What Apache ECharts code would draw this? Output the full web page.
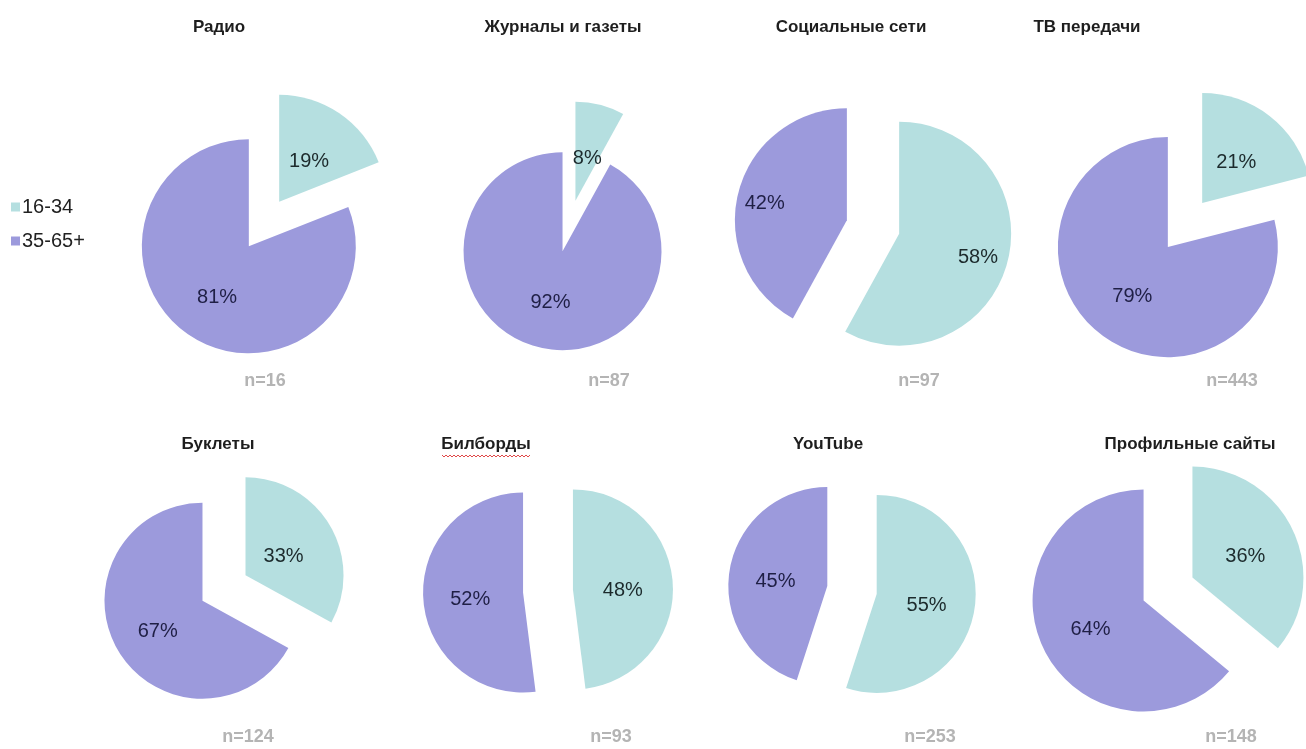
<!DOCTYPE html>
<html>
<head>
<meta charset="utf-8">
<script src="https://cdn.jsdelivr.net/npm/echarts@6/dist/echarts.min.js"></script>
<style>
  html, body { margin: 0; padding: 0; background: #fff; }
  #chart { width: 1306px; height: 749px; }
</style>
</head>
<body>
<div id="chart"></div>
<script>
// Age groups shown in every pie
const ageGroups = ['16-34', '35-65+'];
// Media channels, one pie each
const channels = ['Радио', 'Журналы и газеты', 'Социальные сети', 'ТВ передачи',
                  'Буклеты', 'Билборды', 'YouTube', 'Профильные сайты'];
// Share of respondents, %
const young = [19, 8, 58, 21, 33, 48, 55, 36];
const older = [81, 92, 42, 79, 67, 52, 45, 64];
// Sample size per channel
const sampleSizes = [16, 87, 97, 443, 124, 93, 253, 148];

// Layout of the 2x4 grid of pies
const pieX = [264, 569, 873, 1185, 224, 548, 852, 1168];
const pieY = [224, 226, 227, 225, 588, 591, 590, 589];
const pieR = [107, 99, 112, 110, 98, 100, 99, 111];
const explode = [27, 26, 27, 28, 25, 25, 25, 27];
// radial label nudges (fraction of radius) for the two slices
const pushYoung = [-0.03, -0.05, 0.2, -0.02, -0.08, -0.03, -0.02, 0];
const pushOld = [0, -0.04, 0.23, 0, 0, 0, 0, 0];
const labelDy = 4;
const titleX = [219, 563, 851, 1087, 218, 486, 828, 1190];
const titleY = [27, 27, 27, 27, 444, 444, 444, 444];
const nX = [265, 609, 919, 1232, 248, 611, 930, 1231];
const nY = [381, 381, 381, 381, 737, 737, 737, 737];

const colors = ['#b5dfe0', '#9c9adc'];
const labelColors = ['#1c2a2c', '#1f1f45'];
const FONT = '"Liberation Sans", Arial, sans-serif';

const series = channels.map((name, i) => {
  const vals = [young[i], older[i]];
  const total = vals[0] + vals[1];
  return {
    type: 'pie',
    name: name,
    center: [pieX[i], pieY[i]],
    radius: [0, pieR[i]],
    startAngle: 90,
    clockwise: true,
    selectedMode: 'multiple',
    selectedOffset: explode[i],
    silent: true,
    animation: false,
    emphasis: { disabled: true },
    select: { itemStyle: { borderWidth: 0 } },
    itemStyle: { borderWidth: 0 },
    labelLine: { show: false },
    label: {
      show: true,
      position: 'inside',
      formatter: '{c}%',
      fontFamily: FONT,
      fontSize: 20
    },
    labelLayout: function (p) {
      const k = p.dataIndex;
      const before = k === 0 ? 0 : vals[0];
      const mid = (before + vals[k] / 2) / total * 2 * Math.PI;
      const d = (k === 0 ? pushYoung[i] : pushOld[i]) * pieR[i];
      return { dx: Math.sin(mid) * d, dy: -Math.cos(mid) * d + labelDy };
    },
    data: ageGroups.map((g, k) => ({
      name: g,
      value: vals[k],
      selected: true,
      itemStyle: { color: colors[k] },
      label: { color: labelColors[k] }
    }))
  };
});

const graphics = [];
channels.forEach((name, i) => {
  graphics.push({
    type: 'text',
    x: titleX[i], y: titleY[i],
    style: {
      text: name,
      textAlign: 'center', textVerticalAlign: 'middle',
      font: 'bold 17px ' + FONT,
      fill: '#1e1e1e'
    }
  });
  graphics.push({
    type: 'text',
    x: nX[i], y: nY[i],
    style: {
      text: 'n=' + sampleSizes[i],
      textAlign: 'center', textVerticalAlign: 'middle',
      font: 'bold 18px ' + FONT,
      fill: '#b4b4b4'
    }
  });
});

// Spell-check squiggle under the "Билборды" heading
const squiggle = [];
const sqStart = titleX[5] - 44;
for (let x = 0; x <= 88; x += 2) {
  squiggle.push([sqStart + x, 455 + ((x / 2) % 2 === 0 ? 0 : 2)]);
}
graphics.push({
  type: 'polyline',
  shape: { points: squiggle },
  style: { stroke: '#e04848', lineWidth: 1, fill: null }
});

const chart = echarts.init(document.getElementById('chart'), null, { renderer: 'canvas' });
chart.setOption({
  backgroundColor: '#ffffff',
  animation: false,
  legend: {
    orient: 'vertical',
    left: 11,
    top: 197,
    padding: 0,
    itemWidth: 9,
    itemHeight: 9,
    itemGap: 14,
    icon: 'rect',
    selectedMode: false,
    data: ageGroups,
    textStyle: { fontFamily: FONT, fontSize: 20, color: '#222', padding: [0, 0, 0, -3] }
  },
  graphic: graphics,
  series: series
});
</script>
</body>
</html>
